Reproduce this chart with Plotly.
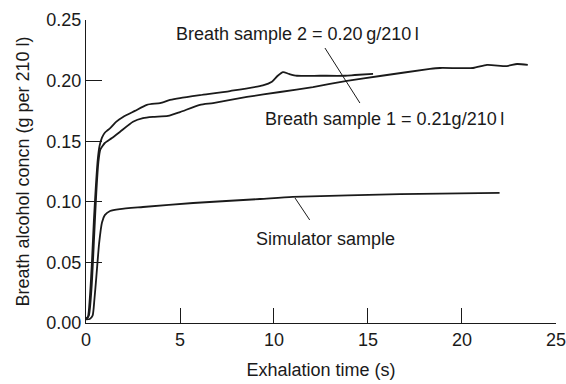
import plotly.graph_objects as go

# Breath sample 2 (upper curve early, bump near 10.5 s)
s2_t = [0, 0.1, 0.2, 0.32, 0.42, 0.52, 0.62, 0.72, 0.85, 1.0, 1.15, 1.3, 1.6, 1.97, 2.6, 3.24, 3.94, 4.47, 5.0, 6.06, 7.66, 9.41, 9.89, 10.2, 10.48, 10.8, 11.22, 12.45, 13.78, 14.3, 15.27]
s2_v = [0.004, 0.005, 0.02, 0.052, 0.085, 0.112, 0.134, 0.146, 0.153, 0.157, 0.159, 0.161, 0.166, 0.170, 0.175, 0.180, 0.1815, 0.184, 0.1856, 0.188, 0.1914, 0.196, 0.199, 0.204, 0.207, 0.2055, 0.204, 0.204, 0.204, 0.2046, 0.2055]

# Breath sample 1 (lower curve early, longest)
s1_t = [0, 0.15, 0.3, 0.43, 0.55, 0.66, 0.76, 0.88, 1.0, 1.38, 1.8, 2.5, 3.03, 3.56, 4.36, 5.0, 6.06, 6.76, 8.56, 10.32, 12.07, 13.88, 15.64, 18.3, 18.83, 20.59, 21.33, 22.39, 22.93, 23.5]
s1_v = [0.003, 0.006, 0.03, 0.07, 0.108, 0.133, 0.143, 0.146, 0.1485, 0.1526, 0.1576, 0.166, 0.169, 0.170, 0.1708, 0.174, 0.180, 0.1815, 0.1865, 0.1906, 0.1947, 0.1997, 0.2038, 0.2096, 0.2104, 0.2104, 0.2129, 0.212, 0.2137, 0.2129]

# Simulator sample
sim_t = [0, 0.2, 0.35, 0.45, 0.55, 0.7, 0.85, 1.0, 1.28, 1.8, 3.03, 5.7, 9.26, 11.0, 16.7, 22.0]
sim_v = [0.003, 0.0033, 0.006, 0.02, 0.038, 0.066, 0.083, 0.089, 0.0924, 0.094, 0.0957, 0.099, 0.1023, 0.104, 0.1064, 0.1073]

x_ticks = [0, 5, 10, 15, 20, 25]
y_ticks = [0.00, 0.05, 0.10, 0.15, 0.20, 0.25]
y_tick_labels = ["0.00", "0.05", "0.10", "0.15", "0.20", "0.25"]

FONT = "Liberation Sans, Arial, sans-serif"
INK = "#1a1a1a"
FS = 18

fig = go.Figure()
for t, v, name in [(s2_t, s2_v, "Breath sample 2"), (s1_t, s1_v, "Breath sample 1"), (sim_t, sim_v, "Simulator sample")]:
    fig.add_trace(go.Scatter(x=t, y=v, mode="lines", name=name,
                             line=dict(color=INK, width=1.8, shape="spline", smoothing=0.6),
                             hoverinfo="skip", cliponaxis=False))

# leader lines
fig.add_shape(type="line", xref="x", yref="y", x0=12.71, y0=0.2269, x1=14.57, y1=0.1815,
              line=dict(color=INK, width=1))
fig.add_shape(type="line", xref="x", yref="y", x0=11.12, y0=0.1031, x1=11.9, y1=0.085,
              line=dict(color=INK, width=1))

ann_font = dict(family=FONT, size=FS, color=INK)
fig.add_annotation(x=11.25, y=0.2384, xref="x", yref="y", text="Breath sample 2 = 0.20\u2009g/210\u2009l",
                   showarrow=False, font=ann_font)
fig.add_annotation(x=15.9, y=0.1683, xref="x", yref="y", text="Breath sample 1 = 0.21g/210\u2009l",
                   showarrow=False, font=ann_font)
fig.add_annotation(x=12.75, y=0.0693, xref="x", yref="y", text="Simulator sample",
                   showarrow=False, font=ann_font)

fig.update_layout(
    width=566, height=384,
    margin=dict(l=86, r=10, t=20, b=61),
    paper_bgcolor="white", plot_bgcolor="white",
    showlegend=False,
    font=dict(family=FONT, size=FS, color=INK),
)
fig.update_xaxes(range=[0, 25.001], tickvals=x_ticks, ticks="inside", ticklen=15, tickwidth=1,
                 tickcolor=INK, showline=True, linecolor=INK, linewidth=1, showgrid=False,
                 zeroline=False, automargin=False, ticklabeloverflow="allow",
                 tickfont=dict(family=FONT, size=FS, color=INK),
                 title=dict(text="Exhalation time (s)", font=dict(family=FONT, size=FS, color=INK), standoff=14))
fig.update_yaxes(range=[0, 0.25], tickvals=y_ticks, ticktext=y_tick_labels, ticks="inside", ticklen=16,
                 tickwidth=1, tickcolor=INK, showline=True, linecolor=INK, linewidth=1, showgrid=False,
                 zeroline=False, automargin=False, tickfont=dict(family=FONT, size=FS, color=INK),
                 title=dict(text="Breath alcohol concn (g per 210 l)", font=dict(family=FONT, size=FS, color=INK), standoff=12))

fig.write_html("out.html", config={"displayModeBar": False},
               post_script="document.body.style.margin='0';document.body.style.overflow='hidden';")
